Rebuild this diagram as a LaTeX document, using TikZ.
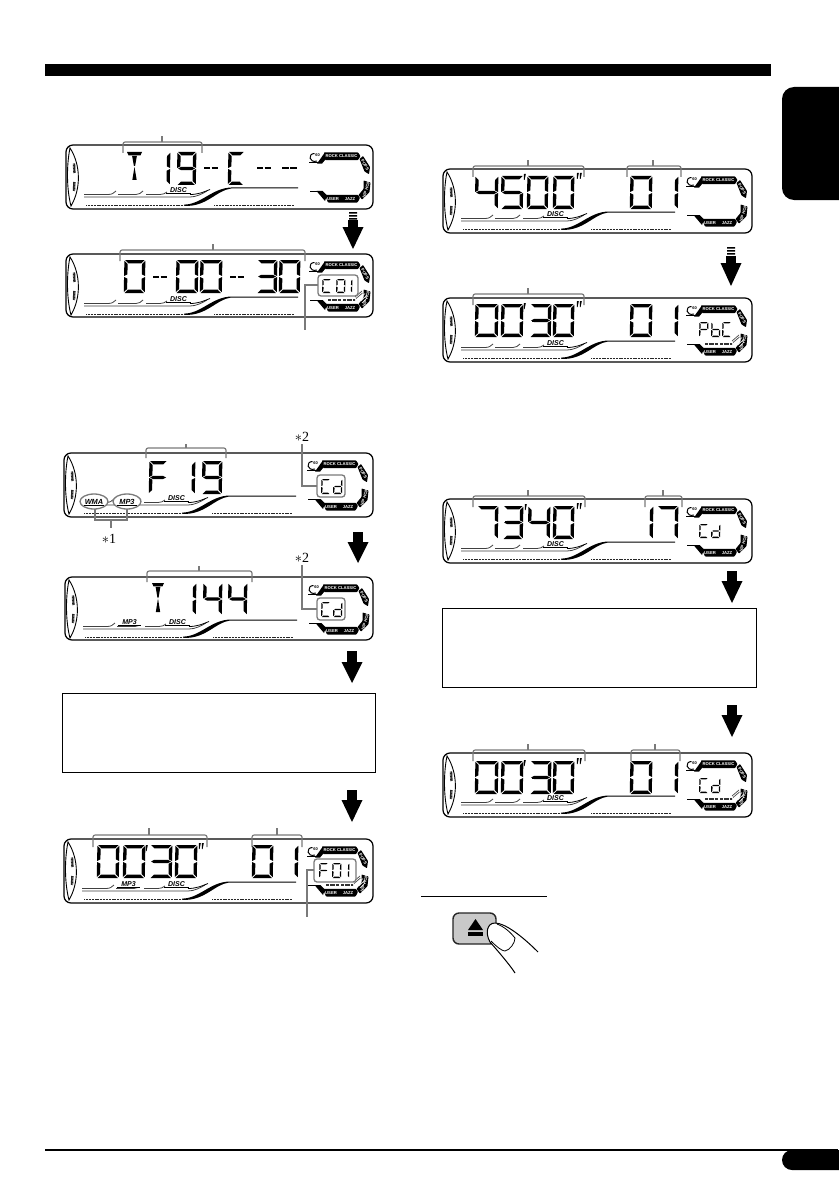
\documentclass[tikz,border=0pt]{standalone}
\usepackage{fontspec}
\setmainfont{Liberation Serif}
\newfontfamily\sansb{Liberation Sans}
\definecolor{lead}{HTML}{7A7A7A}
\definecolor{btn}{HTML}{C9C9C9}
\tikzset{
  lcdframe/.style={draw=black,line width=1.25pt,rounded corners=7pt,fill=white},
  bandtext/.style={text=white,inner sep=0pt,font=\sansb\bfseries\fontsize{4.2}{4.2}\selectfont},
  disctext/.style={inner sep=0pt,font=\sansb\bfseries\itshape\fontsize{7}{7}\selectfont},
  leader/.style={draw=lead,line width=1.2pt},
  brack/.style={draw=lead,line width=1.2pt,rounded corners=2.2pt},
  ring/.style={draw=lead,line width=1.3pt,rounded corners=3pt},
  ovalring/.style={ellipse,draw=lead,line width=1.3pt,fill=white,minimum width=28pt,minimum height=15pt,inner sep=0pt,font=\sansb\bfseries\itshape\fontsize{7.4}{7.4}\selectfont},
  starnote/.style={inner sep=0pt,font=\fontsize{14}{14}\selectfont},
  dots/.style={line width=.9pt,dash pattern=on 1.1pt off .45pt,draw=black!85},
}
\usetikzlibrary{shapes.geometric}
% seven segment pieces
\def\sga{\fill (.8,0)--(\w-.8,0)--(\w-\t-.8,\t)--(\t+.8,\t)--cycle;}
\def\sgd{\fill (.8,\h)--(\w-.8,\h)--(\w-\t-.8,\h-\t)--(\t+.8,\h-\t)--cycle;}
\def\sgb{\fill (\w,.8)--(\w,\h/2-.5)--(\w-\t,\h/2-\t/2-.5)--(\w-\t,\t+.8)--cycle;}
\def\sgc{\fill (\w,\h/2+.5)--(\w,\h-.8)--(\w-\t,\h-\t-.8)--(\w-\t,\h/2+\t/2+.5)--cycle;}
\def\sgf{\fill (0,.8)--(0,\h/2-.5)--(\t,\h/2-\t/2-.5)--(\t,\t+.8)--cycle;}
\def\sge{\fill (0,\h/2+.5)--(0,\h-.8)--(\t,\h-\t-.8)--(\t,\h/2+\t/2+.5)--cycle;}
\def\sgg{\fill (1,\h/2)--(\t+.8,\h/2-\t/2)--(\w-\t-.8,\h/2-\t/2)--(\w-1,\h/2)--(\w-\t-.8,\h/2+\t/2)--(\t+.8,\h/2+\t/2)--cycle;}
\expandafter\def\csname gl0\endcsname{a,b,c,d,e,f}
\expandafter\def\csname gl1\endcsname{b,c}
\expandafter\def\csname gl3\endcsname{a,b,c,d,g}
\expandafter\def\csname gl4\endcsname{b,c,f,g}
\expandafter\def\csname gl5\endcsname{a,c,d,f,g}
\expandafter\def\csname gl7\endcsname{a,b,c}
\expandafter\def\csname gl9\endcsname{a,b,c,d,f,g}
\expandafter\def\csname glC\endcsname{a,d,e,f}
\expandafter\def\csname glF\endcsname{a,e,f,g}
\expandafter\def\csname gld\endcsname{b,c,d,e,g}
\expandafter\def\csname glP\endcsname{a,b,e,f,g}
\expandafter\def\csname glb\endcsname{c,d,e,f,g}
% [thickness]{x}{y}{w}{h}{glyph}
\newcommand\dg[6][3.3]{\begin{scope}[shift={(#2+.4,#3)},xslant=.02]\def\t{#1}\def\w{#4}\def\h{#5}%
  \edef\seglist{\csname gl#6\endcsname}%
  \foreach \s in \seglist {\csname sg\s\endcsname}\end{scope}}
% T glyph {x0}{x1}{y0}{y1}
\newcommand\Tg[4]{\pgfmathsetmacro\xc{(#1+#2)/2}\pgfmathsetmacro\ym{(#3+#4)/2}%
  \fill (#1,#3)--(#2,#3)--(#2-1.5,#3+3.3)--(#1+1.5,#3+3.3)--cycle;
  \fill (\xc-2.4,#3+3.8)--(\xc+2.4,#3+3.8)--(\xc+.6,\ym)--(\xc-.6,\ym)--cycle;
  \fill (\xc,\ym+1)--(\xc+2.2,#4)--(\xc-2.2,#4)--cycle;}
\newcommand\bardash[3]{\pgfmathsetmacro\xm{(#1+#2)/2}%
  \draw[line width=2.9pt] (#1,#3)--(\xm-.6,#3) (\xm+.6,#3)--(#2,#3);}
\newcommand\primem[2]{\fill (#1,#2)--(#1+1.8,#2)--(#1+.6,#2+6)--(#1-.2,#2+6)--cycle;}
\newcommand\dprimem[2]{\primem{#1}{#2}\primem{#1+3}{#2}}
% bracket {x0}{x1}{ytop}{yend}{xstem}{ystem}
\newcommand\brk[6]{\draw[brack] (#1,#4)--(#1,#3)--(#2,#3)--(#2,#4); \draw[leader] (#5,#3)--(#5,#6);}
% big arrow {xc}{ytop}{yneck}{ytip}
\newcommand\bigarrow[4]{\fill (#1-4.8,#2)--(#1+4.8,#2)--(#1+4.8,#3)--(#1+10.5,#3)--(#1,#4)--(#1-10.5,#3)--(#1-4.8,#3)--cycle;}
\newcommand\bars[2]{\fill (#1-4,#2) rectangle (#1+4,#2+1.6) (#1-4,#2+3) rectangle (#1+4,#2+4.6) (#1-4,#2+6) rectangle (#1+4,#2+7.6);}
% display panel {id}{x}{y}{w}{h}
\newcommand\lcd[5]{\begin{scope}[shift={(#2,#3)}]
  \draw[lcdframe] (0,0) rectangle (#4,#5);
  % crescent
  \draw[line width=.9pt,fill=white] (4,3) .. controls (.5,20) and (.5,44) .. (5,61) .. controls (15,44) and (15,20) .. (4,3) -- cycle;
  \draw[line width=2.4pt,dash pattern=on 1.1pt off .4pt,black!85] (8,18.5)--(8.4,28) (8.4,37)--(8,46);
  % track lines
  \draw[line width=.8pt,black!75] (18,49.5)--(42,49.5) .. controls (46,49.5) and (48,48) .. (50,46);
  \draw[line width=.8pt,black!75] (52,49.5)--(70,49.5) .. controls (73,49.5) and (75,48) .. (77,46);
  \draw[line width=.8pt,black!75] (80,49.5)--(94,49.5) .. controls (97,49.5) and (99,48.5) .. (101,47);
  \draw[line width=.8pt,black!75] (18,52)--(124,52) .. controls (130,52) and (136,49) .. (141,46);
  \draw[line width=.8pt] (124,49.5) .. controls (132,49.5) and (138,47) .. (144,44.5);
  \node[disctext,anchor=center] (disc#1) at (112.5,44.6) {DISC};
  \draw[line width=.8pt] (100,48.7)--(125,48.7);
  % swoosh
  \fill (118,59.6) .. controls (135,59.6) and (146,43.2) .. (165,42.5) -- (232,42.5) -- (232,43.5) -- (165,43.5) .. controls (150,45.5) and (141,62) .. (118,60.9) -- cycle;
  \draw[dots] (20,60)--(118,60);
  \draw[dots] (148,60)--(228,60);
  % mode ring
  \draw[line width=1pt] (251,16) .. controls (243,18.5) and (241.5,8.5) .. (248.5,8.5);
  \node[inner sep=0pt,font=\sansb\bfseries\fontsize{4}{4}\selectfont] (tag#1) at (251.5,10.5) {60};
  \draw[line width=1pt] (243,17.8)--(252,17.8);
  \fill (251,18.6)--(259,7.3)--(259,15)--(256,18.6)--cycle;
  \fill[rounded corners=.8pt] (258,7.3)--(292,7.3)--(294.5,11)--(292,15.2)--(259,15.2)--cycle;
  \node[bandtext] (rock#1) at (275.5,11.3) {ROCK CLASSIC};
  \fill[rounded corners=.6pt] (293.5,14)--(297,11)--(304,22)--(303,29.2)--(298.5,26.5)--cycle;
  \node[bandtext,rotate=-60] (pops#1) at (299,20) {POPS};
  \fill[rounded corners=.6pt] (297.5,35.5)--(304.5,37.5)--(303.5,47)--(296,54.5)--(292.5,50)--(297.5,44)--cycle;
  \node[bandtext,rotate=72] (hip#1) at (300.3,44.5) {HIP HOP};
  \draw[line width=1pt] (244,46.5)--(252,46.5);
  \fill (250.5,46)--(256.5,46)--(261,50.5)--(259,56)--cycle;
  \fill[rounded corners=.8pt] (259,49.8)--(292,49.8)--(294,53)--(291.5,57.6)--(262,57.6)--cycle;
  \node[bandtext] (user#1) at (267,53.8) {USER};
  \node[bandtext] (jazz#1) at (284,53.8) {JAZZ};
\end{scope}}
\newcommand\addmp[3]{\begin{scope}[shift={(#2,#3)}]
  \fill[white] (51,43) rectangle (79,49);
  \node[disctext] (mp#1) at (64.5,44.6) {MP3};
  \draw[line width=.8pt] (53,48.7)--(76,48.7);
\end{scope}}
\newcommand\addhatch[2]{\begin{scope}[shift={(#1,#2)}]
  \draw[line width=1.5pt,dash pattern=on .7pt off .5pt,black!80] (262,46)--(275,46) (277,46)--(289,46);
  \draw[line width=.6pt,white] (293,45)--(299,39.5) (295,47)--(301,41) (296,49)--(301,44);
  \draw[line width=.7pt,black!70] (289,43)--(296,37) (290,44.5)--(296.5,39);
\end{scope}}
\begin{document}
\begin{tikzpicture}[x=1pt,y=-1pt]
\useasboundingbox (0,0) rectangle (838,1193);
\fill[white] (0,0) rectangle (838,1193);
% page furniture
\fill (45,64) rectangle (771,76);
\fill[rounded corners=12pt] (782,87) rectangle (860,200);
\draw[line width=1.8pt] (45,1150)--(838,1150);
\fill[rounded corners=10pt] (782,1150) rectangle (860,1170);

% ---- left column ----
\lcd{pa}{66}{145}{307}{64}
\brk{123}{202}{142}{153}{162}{136}
\Tg{127}{142}{152}{180}
\dg{165}{152}{5}{33}{1}
\dg{177}{152}{19}{33}{9}
\bardash{204}{218}{168}
\dg{228}{152}{16}{33}{C}
\bardash{257}{271}{168}
\bardash{282}{297}{168}

\bars{353}{212}
\bigarrow{353}{220}{227}{249}

\lcd{pb}{66}{254}{307}{63}
\addhatch{66}{254}
\brk{120}{305}{250}{261}{213}{244}
\dg{124}{260}{21}{33}{0}
\bardash{153}{167}{277}
\dg{176}{260}{22}{33}{0}
\dg{200}{260}{22}{33}{0}
\bardash{230}{244}{277}
\dg{257}{260}{20}{33}{3}
\dg{279}{260}{21}{33}{0}
\draw[ring,fill=white] (318,275) rectangle (358,296);
\dg[1.3]{322}{279}{9}{14}{C}
\dg[1.3]{336}{279}{9}{14}{0}
\dg[1.3]{349}{279}{3}{14}{1}
\draw[leader] (318,285)--(305,285)--(305,330);

\lcd{pc}{64}{453}{309}{64}
\brk{146}{226}{448}{458}{186}{444}
\dg{149}{461}{18}{33}{F}
\dg{190}{461}{5}{33}{1}
\dg{202}{461}{20}{33}{9}
\draw[ring,fill=white] (317,475) rectangle (345,497);
\dg[1.3]{321}{479}{9}{15}{C}
\dg[1.3]{333}{479}{9}{15}{d}
\draw[leader] (302,444)--(302,486)--(317,486);
\node[starnote] (stara) at (302,437) {$\ast$2};
\draw[leader] (95,509)--(95,520)--(127,520)--(127,509);
\draw[leader] (111,520)--(111,528);
\node[ovalring] (wma) at (94,501.5) {WMA};
\node[ovalring] (mpa) at (127,501.5) {MP3};
\draw[line width=.8pt] (84,505.5)--(104,505.5) (117,505.5)--(137,505.5);
\node[starnote] (starb) at (109,539) {$\ast$1};

\bigarrow{358}{532}{542}{563}

\lcd{pd}{65}{577}{308}{63}
\addmp{pd}{65}{577}
\brk{147}{252}{571}{582}{199}{566}
\Tg{152}{164}{583}{612}
\dg{191}{583}{5}{32}{1}
\dg{203}{583}{19}{32}{4}
\dg{228}{583}{19}{32}{4}
\draw[ring,fill=white] (317,598) rectangle (345,620);
\dg[1.3]{321}{602}{9}{15}{C}
\dg[1.3]{333}{602}{9}{15}{d}
\draw[leader] (302,565)--(302,609)--(317,609);
\node[starnote] (starc) at (302,558) {$\ast$2};

\bigarrow{352}{651}{662}{683}
\draw[line width=1pt] (62,693) rectangle (375,772);
\bigarrow{352}{790}{800}{822}

\lcd{pe}{64}{839}{309}{64}
\addmp{pe}{64}{839}
\addhatch{64}{839}
\brk{93}{207}{835}{847}{149}{828}
\brk{252}{302}{835}{847}{277}{828}
\dg{97}{845}{22}{33}{0}
\dg{123}{845}{22}{33}{0}
\primem{146}{845}
\dg{150}{845}{22}{33}{3}
\draw[line width=2.7pt] (153,862)--(159,862);
\dg{175}{845}{22}{33}{0}
\dprimem{199}{843}
\dg{252}{845}{21}{33}{0}
\dg{293}{845}{5}{33}{1}
\draw[ring,fill=white] (314,859) rectangle (356,882);
\dg[1.3]{319}{863}{9}{15}{F}
\dg[1.3]{332}{863}{9}{15}{0}
\dg[1.3]{346}{863}{3}{15}{1}
\draw[leader] (314,870)--(307,870)--(307,917);

% ---- right column ----
\lcd{ra}{443}{169}{309}{64}
\brk{473}{584}{166}{177}{528}{160}
\brk{627}{681}{166}{177}{653}{160}
\dg{475}{176}{23}{33}{4}
\dg{501}{176}{22}{33}{5}
\primem{524}{174}
\dg{527}{176}{21}{33}{0}
\dg{553}{176}{21}{33}{0}
\dprimem{577}{173}
\dg{630}{176}{22}{33}{0}
\dg{672}{176}{6}{33}{1}

\bars{731}{247}
\bigarrow{731}{256}{263}{286}

\lcd{rb}{443}{298}{309}{64}
\addhatch{443}{298}
\brk{473}{584}{294}{305}{528}{288}
\dg{475}{304}{23}{33}{0}
\dg{501}{304}{22}{33}{0}
\primem{524}{303}
\dg{530}{304}{21}{33}{3}
\draw[line width=2.7pt] (532,321)--(538,321);
\dg{553}{304}{21}{33}{0}
\dprimem{577}{301}
\dg{630}{304}{22}{33}{0}
\dg{672}{304}{6}{33}{1}
\dg[1.3]{699}{322}{9}{15}{P}
\dg[1.3]{711}{322}{9}{15}{b}
\dg[1.3]{722}{322}{9}{15}{C}

\lcd{rc}{443}{499}{309}{64}
\brk{473}{585}{496}{507}{528}{490}
\brk{645}{682}{496}{507}{663}{490}
\dg{477}{506}{21}{33}{7}
\dg{503}{506}{20}{33}{3}
\draw[line width=2.7pt] (505,522)--(509,522);
\primem{525}{504}
\dg{528}{506}{22}{33}{4}
\dg{553}{506}{21}{33}{0}
\dprimem{577}{503}
\dg{647}{506}{6}{33}{1}
\dg{657}{506}{21}{33}{7}
\dg[1.3]{699}{524}{9}{14}{C}
\dg[1.3]{711}{524}{9}{14}{d}

\bigarrow{732}{571}{581}{603}
\draw[line width=1pt] (442,608) rectangle (756,687);
\bigarrow{732}{705}{715}{737}

\lcd{rd}{443}{753}{309}{64}
\addhatch{443}{753}
\brk{473}{585}{750}{761}{528}{744}
\brk{631}{680}{750}{761}{655}{744}
\dg{475}{761}{23}{33}{0}
\dg{501}{761}{22}{33}{0}
\primem{524}{760}
\dg{530}{761}{21}{33}{3}
\draw[line width=2.7pt] (532,778)--(538,778);
\dg{553}{761}{21}{33}{0}
\dprimem{577}{758}
\dg{630}{761}{22}{33}{0}
\dg{672}{761}{6}{33}{1}
\dg[1.3]{699}{778}{9}{15}{C}
\dg[1.3]{711}{778}{9}{15}{d}

% ---- eject button ----
\draw[line width=1pt] (421,896)--(547,896);
\draw[draw=black!85,line width=1.4pt,fill=btn,rounded corners=6pt] (453,913) rectangle (496,944);
\fill (475.5,919)--(483,930)--(468,930)--cycle;
\fill (468,932) rectangle (483,936);
\draw[line width=1pt,fill=white] (538,952) .. controls (522,936) and (505,923) .. (495,923) .. controls (487,923) and (485,933) .. (490,942) .. controls (497,950) and (510,965) .. (515,973);
\draw[line width=.8pt] (497,924) .. controls (505,927) and (511,933) .. (515,938) .. controls (515,943) and (510,950) .. (505,951) .. controls (502,951) and (497,947) .. (491,941);
\end{tikzpicture}
\end{document}
